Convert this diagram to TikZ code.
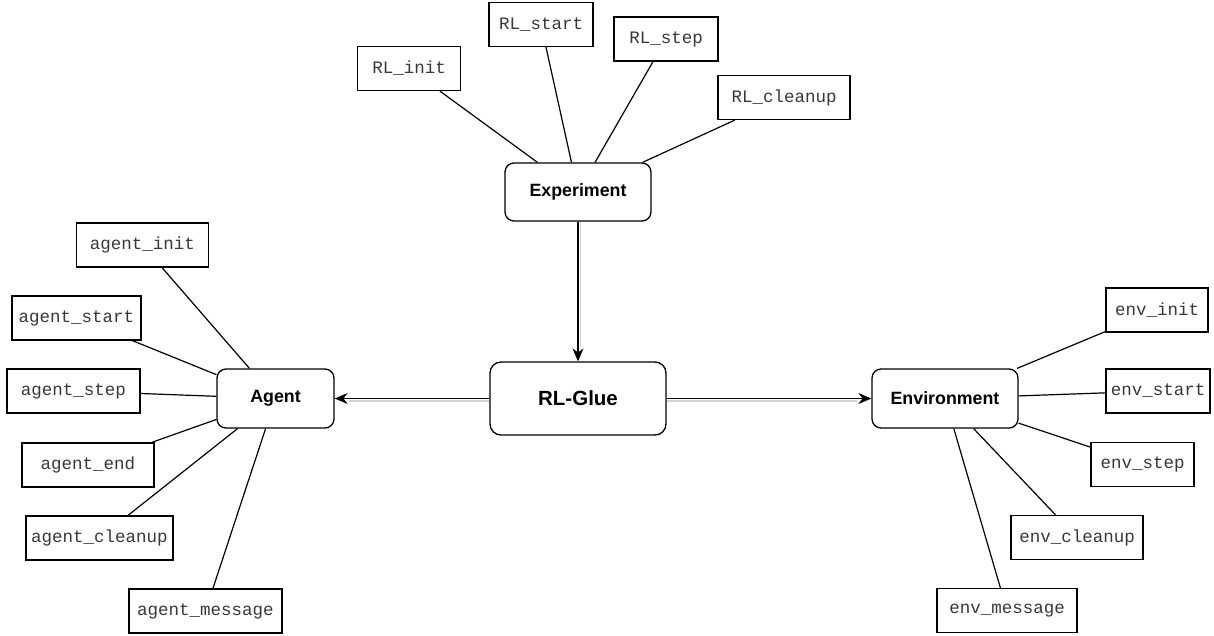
\documentclass[tikz,border=0pt]{standalone}
\usepackage{fontspec}
\setmainfont{Liberation Sans}
\newfontfamily\monof{Liberation Mono}
\usetikzlibrary{arrows.meta}
\begin{document}
\begin{tikzpicture}[x=1pt,y=-1pt,
  fn/.style={draw, line width=1.2pt, text=black!78, font=\monof\fontsize{17.5}{20}\selectfont, minimum height=44pt, inner sep=0pt},
  hub/.style={draw, line width=1.3pt, rounded corners=9pt, font=\bfseries\fontsize{17.8}{20}\selectfont, inner sep=0pt},
  link/.style={line width=1.2pt},
  flow/.style={line width=1.3pt, -{Stealth[length=13pt,width=11pt]}},
  shadeline/.style={line width=1.3pt, black!18}]
\useasboundingbox (0,0) rectangle (1214,635);

% hubs
\node[hub, minimum width=146pt, minimum height=58pt] (exp) at (578,192) {Experiment};
\node[hub, minimum width=176pt, minimum height=73pt, rounded corners=11pt, font=\bfseries\fontsize{20.5}{24}\selectfont] (glue) at (578,398.5) {RL-Glue};
\node[hub, minimum width=117pt, minimum height=59pt] (agent) at (275.5,398.5) {Agent};
\node[hub, minimum width=146pt, minimum height=59pt] (env) at (945,398.5) {Environment};

% experiment functions
\node[fn, minimum width=103pt] (rlinit) at (409,68.5) {RL\_init};
\node[fn, minimum width=104pt] (rlstart) at (541,24.5) {RL\_start};
\node[fn, minimum width=104pt] (rlstep) at (666,39) {RL\_step};
\node[fn, minimum width=132pt] (rlclean) at (784,97.5) {RL\_cleanup};

% agent functions
\node[fn, minimum width=132pt] (ainit) at (142.5,245) {agent\_init};
\node[fn, minimum width=129pt] (astart) at (76.5,318) {agent\_start};
\node[fn, minimum width=133pt] (astep) at (73.5,391) {agent\_step};
\node[fn, minimum width=132pt] (aend) at (88,465) {agent\_end};
\node[fn, minimum width=147pt] (aclean) at (99.5,538) {agent\_cleanup};
\node[fn, minimum width=153pt] (amsg) at (205.5,611) {agent\_message};

% environment functions
\node[fn, minimum width=102pt] (einit) at (1157,310) {env\_init};
\node[fn, minimum width=104pt] (estart) at (1158,391) {env\_start};
\node[fn, minimum width=103pt] (estep) at (1142.5,464.5) {env\_step};
\node[fn, minimum width=132pt] (eclean) at (1077,537.5) {env\_cleanup};
\node[fn, minimum width=140pt] (emsg) at (1007,610.5) {env\_message};

% links
\foreach \n in {rlinit,rlstart,rlstep,rlclean} \draw[link] (exp) -- (\n);
\foreach \n in {ainit,astart,astep,aend,aclean,amsg} \draw[link] (agent) -- (\n);
\foreach \n in {einit,estart,estep,eclean,emsg} \draw[link] (env) -- (\n);

% main flows (with light shadow lines)
\draw[shadeline] ([xshift=2.5pt]exp.south) -- ([xshift=2.5pt,yshift=14pt]glue.north);
\draw[shadeline] ([yshift=-2.5pt]glue.west) -- ([xshift=14pt,yshift=-2.5pt]agent.east);
\draw[shadeline] ([yshift=-2.5pt]glue.east) -- ([xshift=-14pt,yshift=-2.5pt]env.west);
\draw[flow] (exp) -- (glue);
\draw[flow] (glue) -- (agent);
\draw[flow] (glue) -- (env);
\end{tikzpicture}
\end{document}
